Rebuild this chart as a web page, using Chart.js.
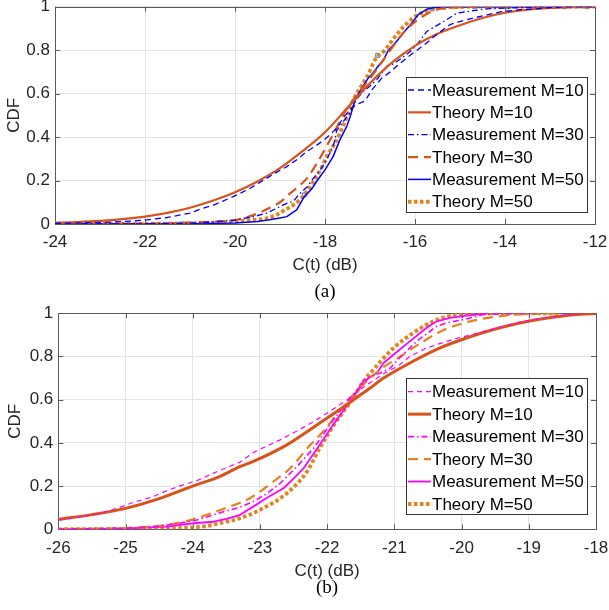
<!DOCTYPE html>
<html><head><meta charset="utf-8">
<script src="https://cdn.jsdelivr.net/npm/chart.js@4.4.0/dist/chart.umd.min.js"></script>
<style>
html,body{margin:0;padding:0;background:#fff;}
#wrap{position:relative;width:609px;height:610px;overflow:hidden;background:#fff;}
canvas{position:absolute;left:0;}
.cap{position:absolute;font-family:"Liberation Serif","Times New Roman",serif;font-size:19px;color:#000;transform:translate(-50%,-50%);white-space:nowrap;}
</style></head><body>
<div id="wrap">
<canvas id="ca" width="609" height="280" style="top:0px"></canvas>
<canvas id="cb" width="609" height="290" style="top:300px"></canvas>
<div class="cap" style="left:325px;top:291px">(a)</div>
<div class="cap" style="left:327px;top:587px">(b)</div>
</div>
<script>
// ---------- labels ----------
const seriesLabels = ['Measurement M=10','Theory M=10','Measurement M=30','Theory M=30','Measurement M=50','Theory M=50'];
const xTitle = 'C(t) (dB)';
const yTitle = 'CDF';

// ---------- panel (a) ----------
const aMeas10x = [-24,-23,-22.5,-22,-21.5,-21,-20.78,-20.5,-20.04,-19.7,-19.3,-19.1,-18.85,-18.6,-18.41,-18.2,-18,-17.82,-17.74,-17.59,-17.45,-17.3,-17.11,-16.96,-16.74,-16.55,-16.33,-16.1,-15.89,-15.7,-15.52,-15.22,-14.95,-14.7,-14.4,-14.11,-13.67,-13.3,-12.93,-12.5,-12];
const aMeas10y = [0.003,0.007,0.011,0.018,0.03,0.05,0.068,0.085,0.126,0.16,0.21,0.235,0.264,0.3,0.333,0.36,0.39,0.425,0.44,0.49,0.525,0.55,0.566,0.617,0.671,0.7,0.74,0.778,0.81,0.84,0.872,0.918,0.935,0.948,0.962,0.976,0.986,0.99,0.997,1,1];
const aTheo10x = [-24,-23.5,-23,-22.5,-22,-21.5,-21,-20.5,-20,-19.5,-19,-18.5,-18,-17.5,-17,-16.5,-16,-15.5,-15,-14.5,-14,-13.5,-13,-12.5,-12];
const aTheo10y = [0.006,0.009,0.014,0.022,0.034,0.051,0.075,0.107,0.146,0.196,0.257,0.335,0.422,0.535,0.648,0.745,0.82,0.875,0.915,0.948,0.972,0.986,0.994,0.998,1.0];
const aMeas30x = [-24,-22,-21,-20.5,-20,-19.6,-19.3,-19.1,-18.85,-18.7,-18.56,-18.4,-18.26,-18.1,-17.95,-17.8,-17.74,-17.6,-17.45,-17.3,-17.15,-17,-16.85,-16.63,-16.45,-16.3,-16.07,-15.9,-15.74,-15.5,-15.3,-15.07,-14.7,-14.4,-13.8,-13.2,-12];
const aMeas30y = [0,0.001,0.004,0.009,0.018,0.033,0.05,0.07,0.095,0.105,0.14,0.17,0.21,0.25,0.3,0.37,0.43,0.47,0.51,0.575,0.61,0.635,0.664,0.725,0.74,0.763,0.8,0.84,0.886,0.915,0.94,0.97,0.982,0.99,0.995,1,1];
const aTheo30x = [-24,-22,-21,-20.5,-20,-19.8,-19.5,-19.25,-19,-18.78,-18.55,-18.4,-18.15,-17.96,-17.75,-17.52,-17.3,-17,-16.7,-16.3,-16,-15.56,-15.2,-14.5,-12];
const aTheo30y = [0,0.002,0.006,0.011,0.018,0.028,0.048,0.072,0.1,0.14,0.18,0.21,0.29,0.36,0.44,0.53,0.59,0.67,0.755,0.87,0.93,0.984,0.995,1,1];
const aMeas50x = [-24,-21,-20,-19.5,-19.27,-19,-18.85,-18.63,-18.46,-18.3,-18.18,-18,-17.82,-17.67,-17.52,-17.44,-17.33,-17.2,-17.04,-16.95,-16.85,-16.7,-16.59,-16.41,-16.26,-16.07,-15.93,-15.74,-15.6,-15.3,-12];
const aMeas50y = [0,0.001,0.005,0.012,0.018,0.028,0.034,0.065,0.126,0.16,0.198,0.249,0.31,0.387,0.448,0.494,0.571,0.62,0.671,0.69,0.718,0.756,0.8,0.84,0.879,0.925,0.963,0.988,0.995,1,1];
const aTheo50x = [-24,-22,-21,-20.5,-20,-19.6,-19.3,-19.1,-18.89,-18.7,-18.56,-18.4,-18.26,-18.1,-17.96,-17.8,-17.67,-17.48,-17.33,-17.2,-17.04,-16.89,-16.67,-16.44,-16.22,-15.96,-15.67,-15.3,-14.8,-12];
const aTheo50y = [0,0.001,0.003,0.006,0.011,0.019,0.026,0.04,0.065,0.088,0.111,0.15,0.195,0.25,0.31,0.365,0.418,0.51,0.587,0.632,0.687,0.755,0.8,0.863,0.915,0.96,0.985,0.996,1,1];
const aMarkX = [-21.2,-18.46,-16.83,-15.62,-14.67,-13.93,-13.26,-12.68,-12.18];
const aMarkY = [0,0.134,0.776,0.99,1,1,1,1,1];

// ---------- panel (b) ----------
const bMeas10x = [-26,-25.7,-25.38,-25.1,-24.88,-24.6,-24.39,-24.2,-23.94,-23.69,-23.5,-23.3,-23.1,-22.9,-22.7,-22.45,-22.2,-21.96,-21.7,-21.45,-21.16,-20.95,-20.77,-20.55,-20.37,-20.12,-19.8,-19.43,-19.13,-18.8,-18.5,-18.2];
const bMeas10y = [0.042,0.055,0.074,0.1,0.125,0.15,0.178,0.2,0.225,0.26,0.285,0.31,0.355,0.385,0.414,0.455,0.499,0.546,0.6,0.66,0.72,0.755,0.8,0.835,0.855,0.88,0.905,0.935,0.96,0.978,0.99,1.0];
const bTheo10x = [-26,-25.5,-25,-24.5,-24,-23.6,-23.3,-23.1,-22.6,-22.11,-21.71,-21.36,-21.16,-20.77,-20.32,-19.92,-19.43,-18.93,-18.43,-18];
const bTheo10y = [0.046,0.068,0.097,0.142,0.2,0.244,0.29,0.314,0.391,0.492,0.577,0.654,0.7,0.77,0.84,0.886,0.933,0.968,0.99,0.999];
const bMeas30x = [-26,-25,-24.5,-24.2,-23.94,-23.6,-23.3,-23.1,-22.9,-22.7,-22.45,-22.2,-21.96,-21.8,-21.66,-21.5,-21.36,-21.2,-21.06,-20.9,-20.67,-20.5,-20.37,-20.22,-19.97,-19.68,-19.4,-18.9];
const bMeas30y = [0.001,0.005,0.014,0.028,0.043,0.076,0.102,0.128,0.165,0.213,0.29,0.376,0.484,0.55,0.608,0.66,0.708,0.725,0.747,0.8,0.87,0.91,0.94,0.956,0.971,0.994,0.998,1.0];
const bTheo30x = [-26,-25,-24.5,-24.2,-23.94,-23.6,-23.45,-23.15,-22.8,-22.55,-22.25,-22.06,-21.86,-21.61,-21.36,-21.21,-20.91,-20.61,-20.32,-20,-19.68,-19.33,-19,-18.6];
const bTheo30y = [0.001,0.006,0.016,0.03,0.051,0.088,0.105,0.144,0.221,0.283,0.391,0.453,0.53,0.623,0.7,0.74,0.8,0.862,0.915,0.952,0.975,0.99,0.997,1.0];
const bMeas50x = [-26,-25,-24.39,-23.99,-23.69,-23.5,-23.3,-23.1,-22.9,-22.65,-22.5,-22.35,-22.11,-21.91,-21.66,-21.46,-21.26,-21.16,-21.01,-20.77,-20.52,-20.37,-20.17,-19.9,-19.6];
const bMeas50y = [0,0.003,0.012,0.028,0.035,0.048,0.066,0.105,0.145,0.19,0.235,0.283,0.391,0.484,0.592,0.685,0.724,0.77,0.809,0.87,0.933,0.963,0.979,0.99,1.0];
const bTheo50x = [-26,-25,-24.3,-24,-23.79,-23.6,-23.3,-23,-22.6,-22.3,-22.11,-21.88,-21.63,-21.46,-21.31,-21.01,-20.72,-20.42,-20.07,-19.58,-18.55];
const bTheo50y = [0,0.002,0.005,0.009,0.015,0.028,0.051,0.09,0.167,0.267,0.376,0.492,0.6,0.685,0.74,0.84,0.909,0.963,0.994,1.0,1.0];

// ---------- styling ----------
const BLUE = '#0000ff', RED = '#d95319', ORANGE = '#e3831c', MAG = '#ff00ff';
const FONT = '"Liberation Sans", Arial, Helvetica, sans-serif';
const TXT = '#262626';
const GRID = '#e4e4e4';

function pts(xs, ys) { return xs.map((x, i) => ({x: x, y: ys[i]})); }

function ds(label, xs, ys, color, width, dash, smooth) {
  return {
    label: label, data: pts(xs, ys), borderColor: color, backgroundColor: color,
    borderWidth: width, borderDash: dash, borderCapStyle: 'butt', borderJoinStyle: 'round',
    pointRadius: 0, pointHoverRadius: 0, fill: false,
    tension: smooth ? 0.4 : 0, cubicInterpolationMode: smooth ? 'monotone' : 'default'
  };
}

const framePlugin = {
  id: 'frame',
  beforeDatasetsDraw(chart) {
    const {ctx, chartArea: a, scales} = chart;
    ctx.save();
    ctx.strokeStyle = '#5a5a5a';
    ctx.lineWidth = 1;
    const tl = 5;
    ctx.beginPath();
    scales.x.ticks.forEach(t => {
      const p = Math.round(scales.x.getPixelForValue(t.value)) + 0.5;
      ctx.moveTo(p, a.bottom); ctx.lineTo(p, a.bottom - tl);
      ctx.moveTo(p, a.top); ctx.lineTo(p, a.top + tl);
    });
    scales.y.ticks.forEach(t => {
      const p = Math.round(scales.y.getPixelForValue(t.value)) + 0.5;
      ctx.moveTo(a.left, p); ctx.lineTo(a.left + tl, p);
      ctx.moveTo(a.right, p); ctx.lineTo(a.right - tl, p);
    });
    ctx.stroke();
    ctx.strokeRect(Math.round(a.left) + 0.5, Math.round(a.top) + 0.5, Math.round(a.right - a.left), Math.round(a.bottom - a.top));
    ctx.restore();
  },
  afterDatasetsDraw(chart, args, opts) {
    const {ctx} = chart;
    const L = opts.box;
    ctx.save();
    ctx.fillStyle = '#fff';
    ctx.fillRect(L.x, L.y, L.w, L.h);
    ctx.strokeStyle = '#333';
    ctx.lineWidth = 1;
    ctx.strokeRect(Math.round(L.x) + 0.5, Math.round(L.y) + 0.5, Math.round(L.w), Math.round(L.h));
    ctx.font = '17px ' + FONT;
    ctx.textBaseline = 'middle';
    ctx.textAlign = 'left';
    chart.data.datasets.slice(0, 6).forEach((d, i) => {
      const y = L.row0 + i * L.step;
      ctx.save();
      ctx.strokeStyle = d.borderColor;
      ctx.lineWidth = d.borderWidth;
      ctx.lineCap = 'butt';
      ctx.setLineDash(d.borderDash || []);
      ctx.beginPath();
      ctx.moveTo(L.x + 2, y); ctx.lineTo(L.x + 25, y);
      ctx.stroke();
      ctx.restore();
      ctx.fillStyle = '#000';
      ctx.fillText(d.label, L.x + 26, y + 1);
    });
    ctx.restore();
  }
};

function fmtTick(v) { return String(Math.round(v * 10) / 10); }

function scalesFor(c) {
  const tickFont = {family: FONT, size: 17};
  return {
    x: {
      type: 'linear', min: c.xmin, max: c.xmax,
      ticks: {stepSize: c.xstep, padding: c.xTickPad, font: tickFont, color: TXT, maxRotation: 0, autoSkip: false, includeBounds: true, callback: fmtTick},
      grid: {color: GRID, drawTicks: false, lineWidth: 1},
      border: {display: false},
      title: {display: true, text: xTitle, font: tickFont, color: TXT, padding: {top: 0, bottom: c.xTitlePad}},
      afterFit(s) { s.height = c.xH; s.paddingLeft = 0; s.paddingRight = 0; }
    },
    y: {
      type: 'linear', min: 0, max: 1,
      ticks: {stepSize: 0.2, padding: 5, font: tickFont, color: TXT, callback: fmtTick},
      grid: {color: GRID, drawTicks: false, lineWidth: 1},
      border: {display: false},
      title: {display: true, text: yTitle, font: tickFont, color: TXT, padding: {top: c.yTitlePad, bottom: 0}},
      afterFit(s) { s.width = c.yW; s.paddingTop = 0; s.paddingBottom = 0; }
    }
  };
}

function commonOptions(c) {
  return {
    responsive: false, animation: false, devicePixelRatio: 1,
    layout: {padding: {left: 0, right: c.padR, top: c.padT, bottom: 0}},
    plugins: {legend: {display: false}, tooltip: {enabled: false}, frame: {box: c.box}},
    scales: scalesFor(c),
    elements: {line: {borderCapStyle: 'butt'}}
  };
}

// ---------- chart (a) ----------
new Chart(document.getElementById('ca'), {
  type: 'line',
  data: {datasets: [
    ds(seriesLabels[0], aMeas10x, aMeas10y, BLUE, 1.3, [6, 4], false),
    ds(seriesLabels[1], aTheo10x, aTheo10y, RED, 2.2, [], true),
    ds(seriesLabels[2], aMeas30x, aMeas30y, BLUE, 1.3, [6, 3, 1.5, 3], false),
    ds(seriesLabels[3], aTheo30x, aTheo30y, RED, 2.2, [10, 6], true),
    ds(seriesLabels[4], aMeas50x, aMeas50y, BLUE, 1.5, [], false),
    ds(seriesLabels[5], aTheo50x, aTheo50y, ORANGE, 3.8, [3.5, 2.5], true),
    {label: 'markers', data: pts(aMarkX, aMarkY), showLine: false, pointStyle: 'rect',
     pointRadius: 2.8, pointBorderWidth: 1, pointBorderColor: '#4f88a8', pointBackgroundColor: '#cfe3f0',
     borderColor: '#4f88a8', backgroundColor: '#cfe3f0'}
  ]},
  options: commonOptions({xmin: -24, xmax: -12, xstep: 2, xTickPad: 8.3, xTitlePad: 4.8, xH: 56,
    yW: 55, yTitlePad: 4, padR: 14, padT: 6.7,
    box: {x: 406, y: 77, w: 181, h: 135, row0: 90, step: 22.35}}),
  plugins: [framePlugin]
});

// ---------- chart (b) ----------
new Chart(document.getElementById('cb'), {
  type: 'line',
  data: {datasets: [
    ds(seriesLabels[0], bMeas10x, bMeas10y, MAG, 1.2, [5, 4], false),
    ds(seriesLabels[1], bTheo10x, bTheo10y, RED, 3, [], true),
    ds(seriesLabels[2], bMeas30x, bMeas30y, MAG, 1.6, [6, 3, 1.5, 3], false),
    ds(seriesLabels[3], bTheo30x, bTheo30y, ORANGE, 2.2, [10, 6], true),
    ds(seriesLabels[4], bMeas50x, bMeas50y, MAG, 1.8, [], false),
    ds(seriesLabels[5], bTheo50x, bTheo50y, ORANGE, 3.8, [3.5, 2.5], true)
  ]},
  options: commonOptions({xmin: -26, xmax: -18, xstep: 1, xTickPad: 8.5, xTitlePad: 8.8, xH: 60.7,
    yW: 58.3, yTitlePad: 5, padR: 13, padT: 13.3,
    box: {x: 406, y: 78.3, w: 181, h: 135.7, row0: 91.7, step: 22.46}}),
  plugins: [framePlugin]
});
</script>
</body></html>
